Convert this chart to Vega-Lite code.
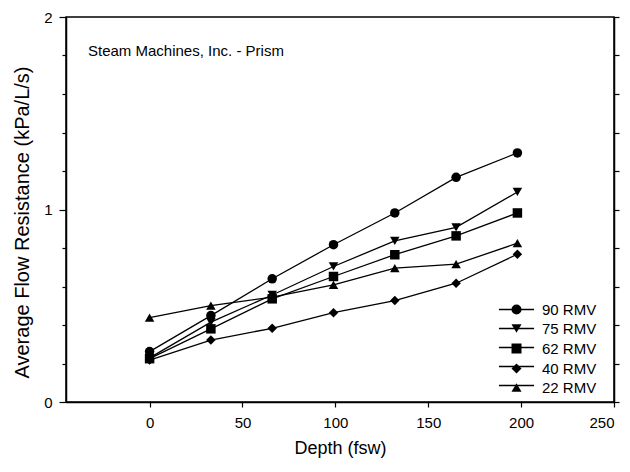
{
  "$schema": "https://vega.github.io/schema/vega-lite/v6.json",
  "width": 548,
  "height": 385,
  "autosize": "none",
  "padding": {"left": 66, "top": 17, "right": 16, "bottom": 70},
  "background": "white",
  "config": {
    "font": "Liberation Sans",
    "view": {"stroke": "black", "strokeWidth": 1.5},
    "axis": {
      "grid": false,
      "domainColor": "black",
      "domainWidth": 1.5,
      "tickColor": "black",
      "tickWidth": 1.2,
      "labelColor": "black",
      "titleColor": "black",
      "labelFont": "Liberation Sans",
      "titleFont": "Liberation Sans",
      "titleFontWeight": "normal"
    },
    "legend": {"labelFont": "Liberation Sans", "labelColor": "black"}
  },
  "title": {
    "text": "Steam Machines, Inc. - Prism",
    "anchor": "start",
    "frame": "group",
    "orient": "top",
    "baseline": "middle",
    "offset": 0,
    "dx": 22,
    "dy": 56,
    "fontSize": 15,
    "fontWeight": "normal",
    "color": "black",
    "font": "Liberation Sans"
  },
  "data": {
    "values": [
      {"series": "90 RMV", "depth": 0, "resistance": 0.262},
      {"series": "90 RMV", "depth": 33, "resistance": 0.449},
      {"series": "90 RMV", "depth": 66, "resistance": 0.640},
      {"series": "90 RMV", "depth": 99, "resistance": 0.817},
      {"series": "90 RMV", "depth": 132, "resistance": 0.982},
      {"series": "90 RMV", "depth": 165, "resistance": 1.167},
      {"series": "90 RMV", "depth": 198, "resistance": 1.294},
      {"series": "75 RMV", "depth": 0, "resistance": 0.229},
      {"series": "75 RMV", "depth": 33, "resistance": 0.415},
      {"series": "75 RMV", "depth": 66, "resistance": 0.556},
      {"series": "75 RMV", "depth": 99, "resistance": 0.704},
      {"series": "75 RMV", "depth": 132, "resistance": 0.837},
      {"series": "75 RMV", "depth": 165, "resistance": 0.907},
      {"series": "75 RMV", "depth": 198, "resistance": 1.091},
      {"series": "62 RMV", "depth": 0, "resistance": 0.225},
      {"series": "62 RMV", "depth": 33, "resistance": 0.380},
      {"series": "62 RMV", "depth": 66, "resistance": 0.536},
      {"series": "62 RMV", "depth": 99, "resistance": 0.652},
      {"series": "62 RMV", "depth": 132, "resistance": 0.765},
      {"series": "62 RMV", "depth": 165, "resistance": 0.863},
      {"series": "62 RMV", "depth": 198, "resistance": 0.982},
      {"series": "40 RMV", "depth": 0, "resistance": 0.218},
      {"series": "40 RMV", "depth": 33, "resistance": 0.322},
      {"series": "40 RMV", "depth": 66, "resistance": 0.383},
      {"series": "40 RMV", "depth": 99, "resistance": 0.464},
      {"series": "40 RMV", "depth": 132, "resistance": 0.527},
      {"series": "40 RMV", "depth": 165, "resistance": 0.617},
      {"series": "40 RMV", "depth": 198, "resistance": 0.768},
      {"series": "22 RMV", "depth": 0, "resistance": 0.438},
      {"series": "22 RMV", "depth": 33, "resistance": 0.501},
      {"series": "22 RMV", "depth": 66, "resistance": 0.545},
      {"series": "22 RMV", "depth": 99, "resistance": 0.609},
      {"series": "22 RMV", "depth": 132, "resistance": 0.695},
      {"series": "22 RMV", "depth": 165, "resistance": 0.716},
      {"series": "22 RMV", "depth": 198, "resistance": 0.825}
    ]
  },
  "layer": [
    {
      "mark": {"type": "line", "strokeWidth": 1.3},
      "encoding": {
        "x": {
          "field": "depth",
          "type": "quantitative",
          "scale": {"domain": [-45, 250], "nice": false, "zero": false},
          "axis": {
            "values": [0, 50, 100, 150, 200, 250],
            "tickSize": 5,
            "labelFontSize": 15,
            "labelPadding": 8,
            "title": "Depth (fsw)",
            "titleFontSize": 18,
            "titleY": 46,
            "titleBaseline": "middle"
          }
        },
        "y": {
          "field": "resistance",
          "type": "quantitative",
          "scale": {"domain": [0, 2], "nice": false},
          "axis": {
            "orient": "left",
            "values": [0, 0.2, 0.4, 0.6, 0.8, 1, 1.2, 1.4, 1.6, 1.8, 2],
            "labelExpr": "datum.value % 1 === 0 ? format(datum.value, 'd') : ''",
            "tickSize": {"condition": {"test": "datum.value % 1 === 0", "value": 7}, "value": 4},
            "labelFontSize": 15,
            "labelPadding": 7,
            "title": "Average Flow Resistance (kPa/L/s)",
            "titleFontSize": 20,
            "titleX": -44,
            "titleY": 205,
            "titleBaseline": "middle"
          }
        },
        "color": {
          "field": "series",
          "type": "nominal",
          "sort": "descending",
          "scale": {"range": ["black", "black", "black", "black", "black"]},
          "legend": {
            "orient": "none",
            "legendX": 443,
            "legendY": 285,
            "title": null,
            "padding": 0,
            "symbolType": "M-3.7,0H3.7",
            "symbolSize": 90,
            "symbolStrokeWidth": 1.3,
            "symbolStrokeColor": "black",
            "labelFontSize": 15,
            "labelOpacity": 0,
            "labelOffset": 18,
            "rowPadding": 3
          }
        },
        "order": {"field": "depth", "type": "quantitative"}
      }
    },
    {
      "mark": {"type": "point", "filled": true, "size": 90, "color": "black", "opacity": 1},
      "encoding": {
        "x": {"field": "depth", "type": "quantitative"},
        "y": {
          "field": "resistance",
          "type": "quantitative",
          "axis": {
            "orient": "right",
            "values": [0, 0.2, 0.4, 0.6, 0.8, 1, 1.2, 1.4, 1.6, 1.8, 2],
            "labels": false,
            "tickSize": 5,
            "title": null
          }
        },
        "shape": {
          "field": "series",
          "type": "nominal",
          "scale": {
            "domain": ["90 RMV", "75 RMV", "62 RMV", "40 RMV", "22 RMV"],
            "range": ["circle", "triangle-down", "square", "diamond", "triangle-up"]
          },
          "legend": {
            "orient": "none",
            "legendX": 443,
            "legendY": 285,
            "title": null,
            "padding": 0,
            "labelFontSize": 15,
            "labelOffset": 18,
            "rowPadding": 3,
            "symbolFillColor": "black",
            "symbolStrokeColor": "black"
          }
        }
      }
    }
  ],
  "resolve": {"axis": {"y": "independent"}}
}
